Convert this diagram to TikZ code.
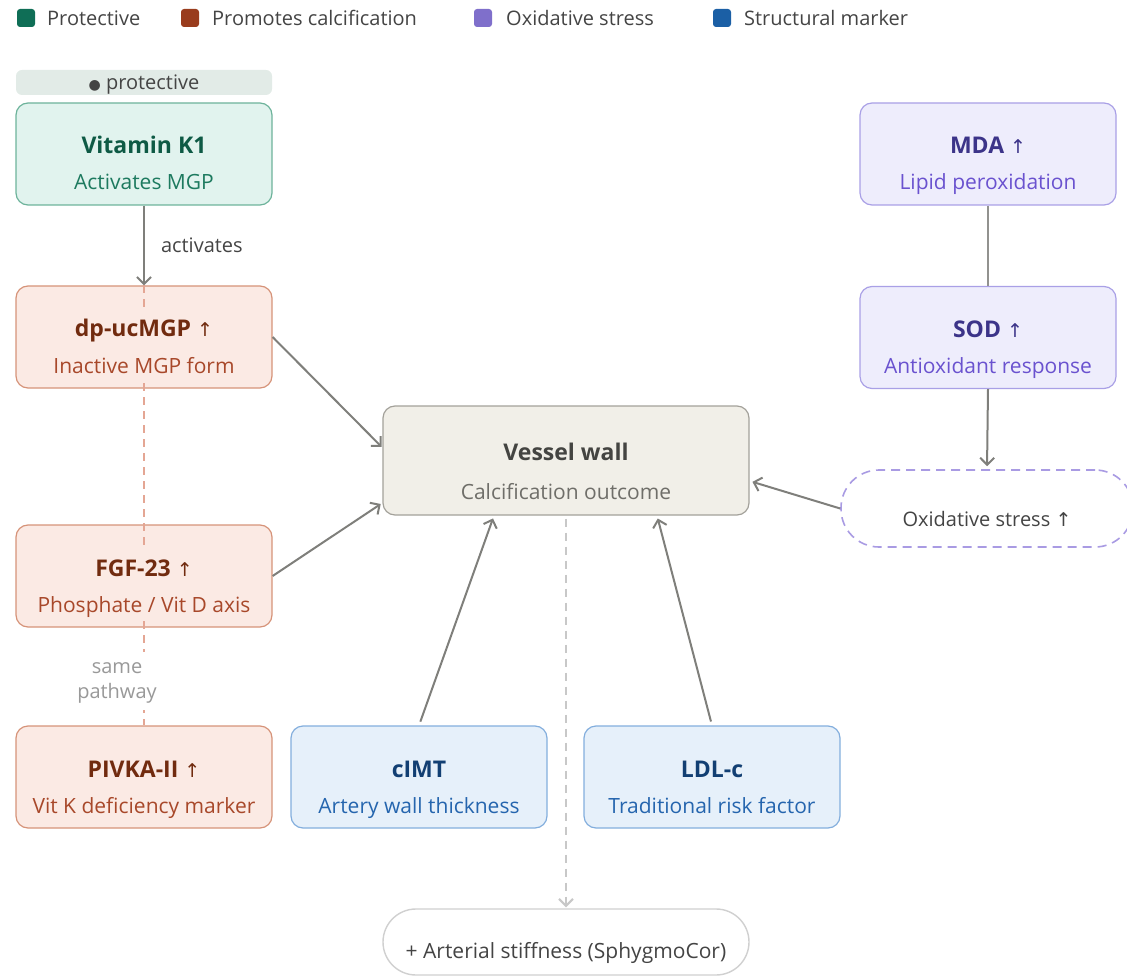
\documentclass[tikz,border=0pt]{standalone}
\usepackage{fontspec}
\setmainfont{Open Sans}
\newfontfamily\symf{DejaVu Sans}
\usetikzlibrary{arrows.meta}
\pgfdeclarelayer{bg}\pgfdeclarelayer{mid}\pgfsetlayers{bg,mid,main}
\definecolor{gfill}{HTML}{E1F3EE}\definecolor{gline}{HTML}{6DB39B}\definecolor{gttl}{HTML}{0E5A45}\definecolor{gsub}{HTML}{1D7A5F}
\definecolor{rfill}{HTML}{FBEAE4}\definecolor{rline}{HTML}{D69379}\definecolor{rttl}{HTML}{712B0F}\definecolor{rsub}{HTML}{A8482A}
\definecolor{pfill}{HTML}{EEEDFC}\definecolor{pline}{HTML}{A9A0E6}\definecolor{pttl}{HTML}{3C3489}\definecolor{psub}{HTML}{6A52CF}
\definecolor{bfill}{HTML}{E6F0FA}\definecolor{bline}{HTML}{83AEDD}\definecolor{bttl}{HTML}{123F73}\definecolor{bsub}{HTML}{2565AE}
\definecolor{vfill}{HTML}{F1EFE8}\definecolor{vline}{HTML}{A3A19A}\definecolor{vttl}{HTML}{444441}\definecolor{vsub}{HTML}{6F6E69}
\definecolor{arrowgray}{HTML}{7F7F7B}
\definecolor{txtgray}{HTML}{444444}
\definecolor{lblgray}{HTML}{999999}
\definecolor{protfill}{HTML}{E2EBE7}
\definecolor{reddash}{HTML}{E4A694}
\definecolor{graydash}{HTML}{C8C8C8}
\definecolor{oxline}{HTML}{A99BE3}
\definecolor{botline}{HTML}{D0D0D0}
\definecolor{lgreen}{HTML}{0F6E56}\definecolor{lred}{HTML}{993C1D}\definecolor{lpurple}{HTML}{7F6FCB}\definecolor{lblue}{HTML}{1B5FA5}
\newcommand\uarr{{\symf\mdseries\fontsize{19}{22}\selectfont ↑}}
\newcommand\card[6]{%
  \begin{pgfonlayer}{bg}
  \node[card, fill=#4fill, draw=#4line] (#1) at (#2,#3) {};
  \end{pgfonlayer}
  \node[ttl, text=#4ttl, fill=#4fill] (#1-t) at (#1.center) {#5};
  \node[sub, text=#4sub, fill=#4fill] (#1-s) at ([yshift=-36pt]#1.center) {#6};
}
\begin{document}
\begin{tikzpicture}[x=1pt,y=-1pt,
  card/.style={rectangle, rounded corners=12pt, minimum width=256pt, minimum height=102pt, line width=1.2pt, inner sep=0pt},
  ttl/.style={anchor=base, font=\fontsize{23}{27}\selectfont\bfseries, inner xsep=2pt, inner ysep=0pt, text height=29pt, text depth=13pt},
  sub/.style={anchor=base, font=\fontsize{21}{25}\selectfont, inner xsep=2pt, inner ysep=0pt, text height=23pt, text depth=7pt},
  arr/.style={draw=arrowgray, line width=2pt, -{Straight Barb[length=7pt,width=14pt]}},
  legsq/.style={rectangle, rounded corners=3pt, minimum size=18pt, inner sep=0pt},
  legtxt/.style={anchor=base west, font=\fontsize{20}{24}\selectfont, text=txtgray, inner sep=0pt},
  lbl/.style={font=\fontsize{20}{24}\selectfont, inner sep=0pt}
]
\useasboundingbox (0,0) rectangle (1127,976);

% legend
\node[legsq, fill=lgreen] (lg1) at (26,18) {};
\node[legtxt] (lt1) at (47,26) {Protective};
\node[legsq, fill=lred] (lg2) at (190,18) {};
\node[legtxt] (lt2) at (212,26) {Promotes calcification};
\node[legsq, fill=lpurple] (lg3) at (483,18) {};
\node[legtxt] (lt3) at (506,26) {Oxidative stress};
\node[legsq, fill=lblue] (lg4) at (722,18) {};
\node[legtxt] (lt4) at (744,26) {Structural marker};

% protective tag
\node[rectangle, rounded corners=6pt, fill=protfill, minimum width=256pt, minimum height=25pt, inner sep=0pt,
  font=\fontsize{20}{24}\selectfont, text=txtgray, text height=16pt, text depth=2pt] (prot) at (144,82.5) {{\symf\fontsize{14}{16}\selectfont ●} protective};

% cards
\card{vk}{144}{154}{g}{Vitamin K1}{Activates MGP}
\card{dp}{144}{337}{r}{dp-ucMGP \uarr}{Inactive MGP form}
\card{fgf}{144}{576}{r}{FGF-23 \uarr}{Phosphate / Vit D axis}
\card{pivka}{144}{777}{r}{PIVKA-II \uarr}{Vit K deficiency marker}
\card{cimt}{419}{777}{b}{cIMT}{Artery wall thickness}
\card{ldl}{712}{777}{b}{LDL-c}{Traditional risk factor}
\card{mda}{988}{154}{p}{MDA \uarr}{Lipid peroxidation}
\card{sod}{988}{337.5}{p}{SOD \uarr}{Antioxidant response}

% vessel wall
\begin{pgfonlayer}{bg}
\node[card, minimum width=366pt, minimum height=109pt, fill=vfill, draw=vline] (vw) at (566,460.5) {};
\end{pgfonlayer}
\node[ttl, text=vttl, fill=vfill] (vw-t) at ([yshift=0pt]vw.center) {Vessel wall};
\node[sub, text=vsub, fill=vfill] (vw-s) at ([yshift=-38.5pt]vw.center) {Calcification outcome};

% pills
\node[rectangle, rounded corners=38pt, minimum width=292pt, minimum height=77pt, fill=white, draw=oxline,
  line width=1.6pt, dash pattern=on 9pt off 6pt, font=\fontsize{20}{24}\selectfont, text=txtgray,
  inner sep=0pt, text height=42pt, text depth=7pt] (ox) at (987,508.5) {Oxidative stress \uarr};
\node[rectangle, rounded corners=33pt, minimum width=366pt, minimum height=66pt, fill=white, draw=botline,
  line width=1.4pt, font=\fontsize{21}{25}\selectfont, text=txtgray,
  inner sep=0pt, text height=40pt, text depth=7pt] (bot) at (566,942) {+ Arterial stiffness (SphygmoCor)};

% dashed same-pathway line
\begin{pgfonlayer}{mid}
\draw[reddash, line width=1.4pt, dash pattern=on 8pt off 6pt] (dp.north) -- (pivka.north)
  node[lbl, pos=0.9, xshift=-27pt, fill=white, text=lblgray, align=center, inner ysep=4pt, font=\fontsize{20}{25}\selectfont] (sp) {\strut same\\pathway\strut};
\end{pgfonlayer}

% connectors
\draw[arr] (vk.south) -- (dp.north) node[lbl, midway, right=16pt, text=txtgray] (act) {activates};
\draw[arr, shorten >=1pt] (dp.east) -- (vw.176);
\draw[arr, shorten >=2pt] (fgf.east) -- (vw.193);
\draw[arr, shorten <=4pt, shorten >=3pt] (cimt.north) -- ([xshift=-72pt]vw.south);
\draw[arr, shorten <=4pt, shorten >=3pt] (ldl.north) -- ([xshift=91pt]vw.south);
\draw[draw=arrowgray!85, line width=2pt] (mda.south) -- (sod.north);
\draw[arr, shorten >=3pt] (sod.south) -- (ox.north);
\draw[arr, shorten >=3pt] (ox.west) -- ([yshift=-20.5pt]vw.east);
\draw[draw=graydash, line width=2pt, dash pattern=on 8pt off 6pt, -{Straight Barb[length=7pt,width=14pt]}, shorten <=3pt, shorten >=1pt] (vw.south) -- (bot.north);
\end{tikzpicture}
\end{document}
